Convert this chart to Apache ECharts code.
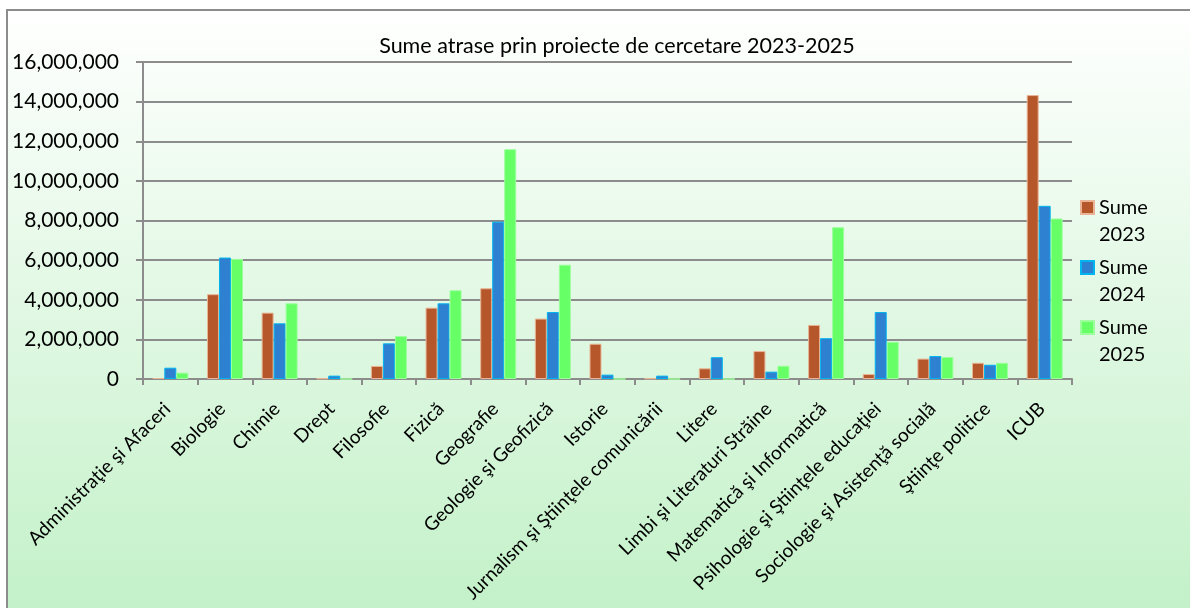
<!DOCTYPE html>
<html>
<head>
<meta charset="utf-8">
<script src="https://cdn.jsdelivr.net/npm/echarts@6/dist/echarts.min.js"></script>
<style>
  html, body { margin: 0; padding: 0; background: #fff; }
  #chart { width: 1190px; height: 608px; }
</style>
</head>
<body>
<div id="chart"></div>
<script>
const categories = [
  'Administraţie şi Afaceri', 'Biologie', 'Chimie', 'Drept', 'Filosofie', 'Fizică',
  'Geografie', 'Geologie şi Geofizică', 'Istorie', 'Jurnalism şi Ştiinţele comunicării',
  'Litere', 'Limbi şi Literaturi Străine', 'Matematică şi Informatică',
  'Psihologie şi Ştiinţele educaţiei', 'Sociologie şi Asistenţă socială',
  'Ştiinţe politice', 'ICUB'
];
const seriesNames = ['Sume 2023', 'Sume 2024', 'Sume 2025'];
const sume2023 = [50000, 4280000, 3350000, 30000, 660000, 3600000, 4580000, 3050000, 1780000, 30000, 540000, 1410000, 2730000, 250000, 1030000, 820000, 14330000];
const sume2024 = [570000, 6130000, 2810000, 170000, 1800000, 3820000, 7940000, 3380000, 220000, 170000, 1100000, 370000, 2060000, 3380000, 1160000, 720000, 8740000];
const sume2025 = [320000, 6060000, 3820000, 0, 2170000, 4480000, 11600000, 5770000, 0, 0, 0, 670000, 7660000, 1880000, 1110000, 820000, 8100000];

const font = 'Lato, "Noto Sans", sans-serif';
const gridGray = '#8c8c8c';

const chart = echarts.init(document.getElementById('chart'));

function barSeries(name, data, color, border) {
  return {
    name: name,
    type: 'bar',
    data: data,
    barWidth: 12,
    barGap: '0%',
    itemStyle: { color: color, borderColor: border, borderWidth: 1 }
  };
}

const option = {
  animation: false,
  textStyle: { fontFamily: font },
  graphic: [{
    type: 'rect',
    z: -10,
    shape: { x: 7, y: 10, width: 1300, height: 700 },
    style: {
      fill: new echarts.graphic.LinearGradient(0, 0, 0, 1, [
        { offset: 0, color: '#ffffff' },
        { offset: 0.857, color: '#c3f1c8' },
        { offset: 1, color: '#c3f1c8' }
      ]),
      stroke: gridGray,
      lineWidth: 2
    }
  }],
  title: {
    text: 'Sume atrase prin proiecte de cercetare 2023-2025',
    left: 612,
    top: 30,
    textAlign: 'center',
    textStyle: { fontFamily: font, fontSize: 21.5, fontWeight: 'normal', color: '#000' }
  },
  legend: {
    orient: 'vertical',
    left: 1080,
    top: 167,
    padding: 0,
    itemWidth: 13,
    itemHeight: 13,
    itemGap: -21,
    icon: 'rect',
    data: seriesNames,
    formatter: function (name) { return '\n' + name.replace(' ', '\n'); },
    textStyle: { fontFamily: font, fontSize: 20, lineHeight: 27, color: '#000' }
  },
  grid: { left: 143, top: 62, right: 118, bottom: 229, containLabel: false },
  xAxis: {
    type: 'category',
    data: categories,
    axisLine: { lineStyle: { color: gridGray, width: 2 } },
    axisTick: { show: true, length: 6, lineStyle: { color: gridGray, width: 2 } },
    axisLabel: {
      interval: 0,
      rotate: 45,
      margin: 24,
      padding: [0, 4, 0, 0],
      fontFamily: font,
      fontSize: 19,
      color: '#000'
    }
  },
  yAxis: {
    type: 'value',
    min: 0,
    max: 16000000,
    interval: 2000000,
    axisLine: { show: true, lineStyle: { color: gridGray, width: 2 } },
    axisTick: { show: true, length: 7, lineStyle: { color: gridGray, width: 2 } },
    splitLine: { lineStyle: { color: gridGray, width: 2 } },
    axisLabel: {
      margin: 24,
      fontFamily: font,
      fontSize: 21,
      color: '#000',
      formatter: function (v) { return v.toLocaleString('en-US'); }
    }
  },
  series: [
    barSeries(seriesNames[0], sume2023, '#b5572a', '#e9b596'),
    barSeries(seriesNames[1], sume2024, '#2e80d0', '#00b4f0'),
    barSeries(seriesNames[2], sume2025, '#66ff66', '#9cff9c')
  ]
};

chart.setOption(option);
</script>
</body>
</html>
